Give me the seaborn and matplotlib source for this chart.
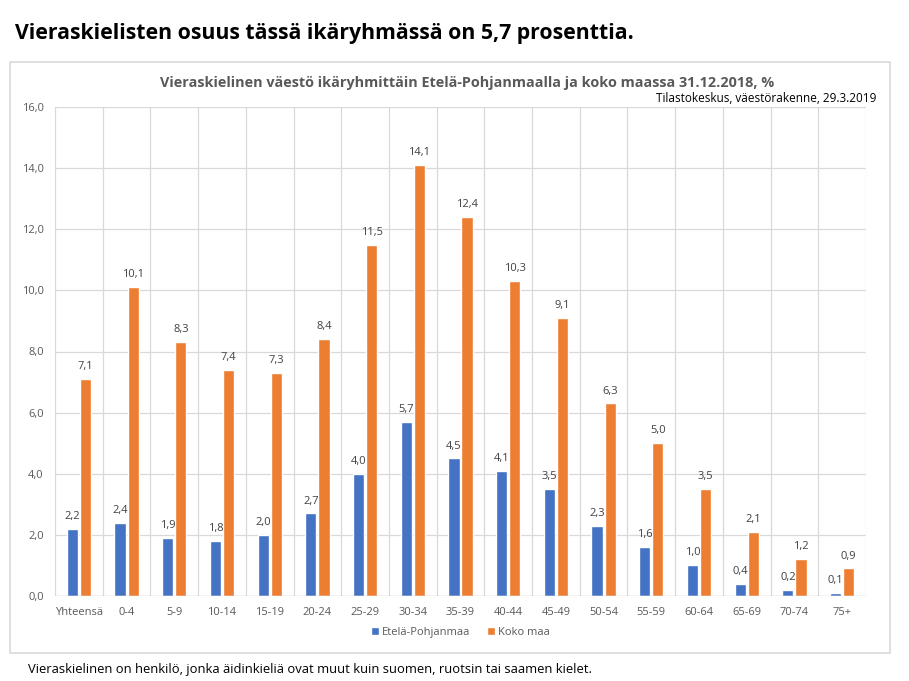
import pandas as pd
import matplotlib
matplotlib.use('Agg')
from matplotlib import pyplot as plt
from matplotlib.patches import Rectangle
from matplotlib.ticker import FuncFormatter
import seaborn as sns

# Data
ikaryhmat = ['Yhteensä', '0-4', '5-9', '10-14', '15-19', '20-24', '25-29', '30-34', '35-39',
             '40-44', '45-49', '50-54', '55-59', '60-64', '65-69', '70-74', '75+']
etela_pohjanmaa = [2.2, 2.4, 1.9, 1.8, 2.0, 2.7, 4.0, 5.7, 4.5, 4.1, 3.5, 2.3, 1.6, 1.0, 0.4, 0.2, 0.1]
koko_maa = [7.1, 10.1, 8.3, 7.4, 7.3, 8.4, 11.5, 14.1, 12.4, 10.3, 9.1, 6.3, 5.0, 3.5, 2.1, 1.2, 0.9]
sarjat = ['Etelä-Pohjanmaa', 'Koko maa']

df = pd.DataFrame({
    'ikaryhma': ikaryhmat * 2,
    'sarja': [sarjat[0]] * len(ikaryhmat) + [sarjat[1]] * len(ikaryhmat),
    'osuus': etela_pohjanmaa + koko_maa,
})

sns.set_style('white')
plt.rcParams['font.family'] = ['Open Sans', 'DejaVu Sans']

W, H = 909, 681
fig = plt.figure(figsize=(W / 100, H / 100), dpi=100)

# Chart frame
fig.patches.append(Rectangle((10 / W, 1 - 653 / H), 880 / W, (653 - 62) / H,
                             transform=fig.transFigure, fill=False,
                             edgecolor='#d9d9d9', linewidth=1.2))

ax = fig.add_axes([55 / W, 1 - 596 / H, (866 - 55) / W, (596 - 107) / H])
sns.barplot(data=df, x='ikaryhma', y='osuus', hue='sarja', order=ikaryhmat,
            hue_order=sarjat, palette=['#4472C4', '#ED7D31'], width=0.55, gap=0.15,
            saturation=1, ax=ax)

ax.set_ylim(0, 16)
ax.set_xlim(-0.5, len(ikaryhmat) - 0.5)
ax.set_yticks(range(0, 17, 2))
ax.yaxis.set_major_formatter(FuncFormatter(lambda v, p: f'{v:.1f}'.replace('.', ',')))
ax.set_xticks(range(len(ikaryhmat)))
ax.set_xticklabels(ikaryhmat)
ax.tick_params(axis='both', length=0, labelsize=8, colors='#595959', pad=8)
ax.set_xlabel('')
ax.set_ylabel('')

# Gridlines: horizontal at ticks, vertical at category boundaries
for y in range(2, 17, 2):
    ax.axhline(y, color='#d9d9d9', linewidth=0.9, zorder=0)
for x in range(len(ikaryhmat) + 1):
    ax.axvline(x - 0.5, color='#d9d9d9', linewidth=0.9, zorder=0)
for s in ax.spines.values():
    s.set_visible(False)
ax.axhline(0, color='#bfbfbf', linewidth=1, zorder=3)

# Data labels
for cont in ax.containers:
    ax.bar_label(cont, labels=[f'{b.get_height():.1f}'.replace('.', ',') for b in cont],
                 padding=5, fontsize=8, color='#404040')

# Legend
handles, labels = ax.get_legend_handles_labels()
ax.legend(handles, labels, loc='center', bbox_to_anchor=(0.5, -0.075), ncol=2,
          frameon=False, fontsize=8, handlelength=0.7, handleheight=0.7,
          columnspacing=1.5, handletextpad=0.3, labelcolor='#595959')

# Texts
fig.text(15 / W, 1 - 33 / H, 'Vieraskielisten osuus tässä ikäryhmässä on 5,7 prosenttia.',
         fontsize=15.3, fontweight='bold', va='center', ha='left', color='black')
fig.text(467 / W, 1 - 83 / H,
         'Vieraskielinen väestö ikäryhmittäin Etelä-Pohjanmaalla ja koko maassa 31.12.2018, %',
         fontsize=10.4, fontweight='bold', va='center', ha='center', color='#595959')
fig.text(876 / W, 1 - 98 / H, 'Tilastokeskus, väestörakenne, 29.3.2019',
         fontsize=8.5, va='center', ha='right', color='black')
fig.text(28 / W, 1 - 669 / H,
         'Vieraskielinen on henkilö, jonka äidinkieliä ovat muut kuin suomen, ruotsin tai saamen kielet.',
         fontsize=9.4, va='center', ha='left', color='black')

fig.savefig('out.png', dpi=100)
plt.close()
